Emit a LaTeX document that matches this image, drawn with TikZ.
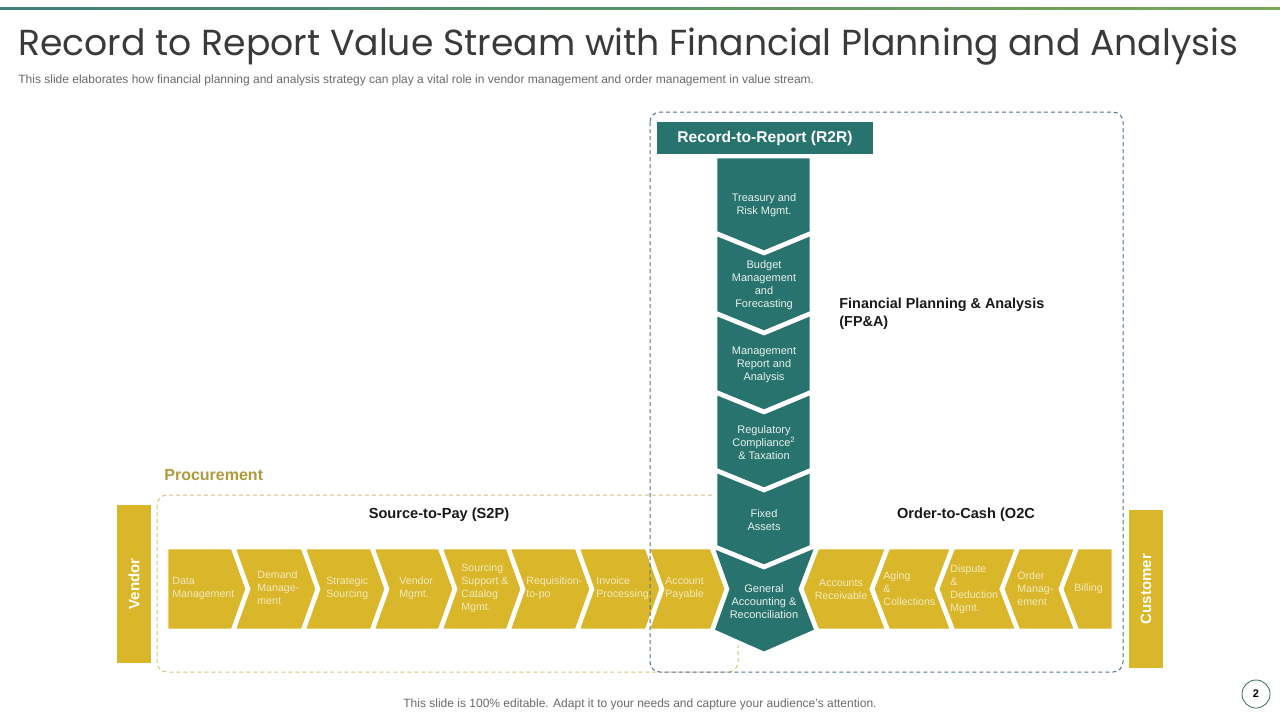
\documentclass[tikz,border=0pt]{standalone}
\usepackage{fontspec}
\setmainfont{Liberation Sans}
\newfontfamily\gothic{Poppins}
\usetikzlibrary{positioning}
\definecolor{rtrTeal}{HTML}{29736E}
\definecolor{rtrGold}{HTML}{DAB62A}
\definecolor{rtrOlive}{HTML}{B09A3C}
\definecolor{rtrSand}{HTML}{D8C27E}
\definecolor{rtrSlate}{HTML}{50708F}
\definecolor{rtrInk}{HTML}{3A3A3A}
\definecolor{rtrGrey}{HTML}{6A6A6A}
\definecolor{rtrCream}{HTML}{F4E9BC}
\definecolor{rtrMint}{HTML}{E8F1EF}
\definecolor{rtrLine}{HTML}{3E7F78}
\definecolor{rtrLeaf}{HTML}{7AA857}
\tikzset{
  goldseg/.style={fill=rtrGold, draw=white, line width=2.3pt, line join=miter},
  tealseg/.style={fill=rtrTeal, draw=white, line width=2.3pt, line join=miter},
  goldtxt/.style={font=\fontsize{5.3}{6.5}\selectfont, text=rtrCream, align=left, inner sep=0pt, anchor=west},
  tealtxt/.style={font=\fontsize{5.5}{6.5}\selectfont, text=rtrMint, align=center, inner sep=0pt},
  sidetxt/.style={font=\fontsize{7.5}{9}\selectfont\bfseries, text=white, rotate=90, inner sep=0pt},
  stream/.style={font=\fontsize{7.3}{9}\selectfont\bfseries, text=black!90, inner sep=0pt},
  procbox/.style={draw=rtrSand, dashed, dash pattern=on 2pt off 1.5pt, line width=0.5pt, rounded corners=5pt},
  r2rbox/.style={draw=rtrSlate, dashed, dash pattern=on 2pt off 1.5pt, line width=0.5pt, rounded corners=5pt},
}

\begin{document}
\begin{tikzpicture}[x=0.5pt,y=-0.5pt]
  \useasboundingbox (0,0) rectangle (1280,720);
  % header
  \shade[left color=rtrLine,right color=rtrLeaf] (0,7) rectangle (1280,9.5);
  \node[anchor=base west,inner sep=0pt,text=rtrInk,font=\gothic\fontsize{18.1}{21}\selectfont] (title) at (18,55)
       {Record to Report Value Stream with Financial Planning and Analysis};
  \node[anchor=base west,inner sep=0pt,text=rtrGrey,font=\fontsize{6}{7}\selectfont] (subtitle) at (18,83)
       {This slide elaborates how financial planning and analysis strategy can play a vital role in vendor management and order management in value stream.};
  % procurement frame
  \draw[procbox] (157,495) rectangle (738,672);
  \node[anchor=base west,inner sep=0pt,text=rtrOlive,font=\fontsize{8}{10}\selectfont\bfseries] (proc) at (164,480) {Procurement};
  % source-to-pay chevrons
  \foreach \a/\b/\d in {166/233/0,233/303/15,303/372/15,372/440/15,440/508/15,508/577/15,577/647/15,647/712/15}{
    \draw[goldseg] (\a,547) -- (\b,547) -- (\b+15,589) -- (\b,631) -- (\a,631) -- (\a+\d,589) -- cycle;}
  % order-to-cash chevrons
  \foreach \a/\b/\d in {817/888/16,888/953/16,953/1018/16,1018/1077/16,1077/1114/0}{
    \draw[goldseg] (\a,547) -- (\b,547) -- (\b-\d,589) -- (\b,631) -- (\a,631) -- (\a-16,589) -- cycle;}
  % record-to-report column
  \foreach \a/\b/\d in {156/233/0,233/313/20,313/392/20,392/470/20,470/547/20}{
    \draw[tealseg] (715,\a) -- (764,\a+\d) -- (812,\a) -- (812,\b) -- (764,\b+20) -- (715,\b) -- cycle;}
  \draw[tealseg] (712,547) -- (715,547) -- (764,567) -- (812,547) -- (817,547) -- (801,589) -- (817,631)
        -- (764,654) -- (712,631) -- (727,589) -- cycle;
  % labels in the chevrons
  \foreach \t/\x [count=\i] in {{Data\\Management}/172, {Demand\\Manage-\\ment}/257, {Strategic\\Sourcing}/326,
      {Vendor\\Mgmt.}/399, {Sourcing\\Support \&\\Catalog\\Mgmt.}/461, {Requisition-\\to-po}/526,
      {Invoice\\Processing}/596, {Account\\Payable}/665}{
    \node[goldtxt] (sp\i) at (\x,588) {\t};}
  \node[goldtxt,anchor=center,align=center] (oc0) at (841,589) {Accounts\\Receivable};
  \foreach \t/\x [count=\i] in {{Aging\\\&\\Collections}/883, {Dispute\\\&\\Deduction\\Mgmt.}/950,
      {Order\\Manag-\\ement}/1017, {Billing}/1074}{
    \node[goldtxt] (oc\i) at (\x,589) {\t};}
  \foreach \t/\y [count=\i] in {{Treasury and\\Risk Mgmt.}/205, {Budget\\Management\\and\\Forecasting}/285,
      {Management\\Report and\\Analysis}/364.5, {Regulatory\\Compliance\textsuperscript{2}\\\& Taxation}/442.5,
      {Fixed\\Assets}/520, {General\\Accounting \&\\Reconciliation}/601.5}{
    \node[tealtxt] (rr\i) at (764,\y) {\t};}
  % side bars
  \fill[rtrGold] (117,505) rectangle (151,663);
  \node[sidetxt] (vendor) at (134,584) {Vendor};
  \fill[rtrGold] (1129,510) rectangle (1163,668);
  \node[sidetxt] (customer) at (1146,589) {Customer};
  % record-to-report frame
  \draw[r2rbox] (650,112) rectangle (1123,672);
  \fill[rtrTeal] (657,122) rectangle (873,154);
  \node[inner sep=0pt,text=white,font=\fontsize{7.8}{9}\selectfont\bfseries] (r2r) at (765,138) {Record-to-Report (R2R)};
  \node[anchor=north west,align=left,inner sep=0pt,text=black!90,font=\fontsize{7.2}{9}\selectfont\bfseries] (fpa) at (839,298)
       {Financial Planning \& Analysis\\(FP\&A)};
  \node[stream] (s2p) at (439,515) {Source-to-Pay (S2P)};
  \node[stream] (o2c) at (966,515) {Order-to-Cash (O2C};
  % footer
  \node[inner sep=0pt,text=rtrGrey,font=\fontsize{6}{7}\selectfont] (foot) at (640,704)
       {This slide is 100\% editable. Adapt it to your needs and capture your audience's attention.};
  \node[circle,draw=rtrLine!80!black,line width=0.4pt,minimum size=14pt,inner sep=0pt,font=\fontsize{5.5}{7}\selectfont\bfseries] (page) at (1256,694) {2};
\end{tikzpicture}
\end{document}
